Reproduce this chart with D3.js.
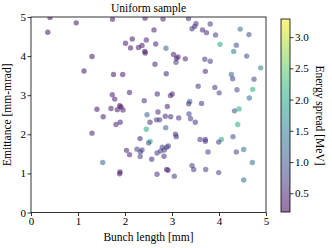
<!DOCTYPE html>
<html><head><meta charset="utf-8">
<script src="https://cdn.jsdelivr.net/npm/d3@7"></script>
<style>body{margin:0;background:#fff}svg{display:block}text{font-family:"Liberation Serif","DejaVu Serif",serif;fill:#000}</style>
</head><body><svg id="c" width="332" height="248"></svg>
<script>
const bunchLength = [0.404,0.357,0.962,1.298,1.128,1.734,2.426,2.809,3.351,2.617,2.155,2.011,2.453,2.117,2.287,2.362,2.421,2.432,2.653,2.872,3.032,3.128,3.096,3.085,3.283,2.638,2.877,1.755,1.951,2.096,1.730,1.781,2.409,2.687,3.006,2.968,2.900,1.887,1.915,1.836,1.702,1.957,1.404,2.702,3.377,3.355,3.511,3.426,3.483,3.813,3.649,3.734,3.926,4.451,4.638,4.021,4.368,4.313,4.589,3.698,3.815,3.709,4.887,4.262,4.291,4.745,3.557,3.911,4.004,4.383,4.717,4.645,3.628,4.330,4.426,1.536,1.809,1.898,1.298,2.468,2.532,2.738,2.670,2.857,2.972,3.143,3.362,3.394,3.496,2.453,2.866,2.319,2.536,2.504,3.074,3.091,2.032,2.096,2.255,2.326,2.362,2.323,2.568,2.681,2.755,2.794,2.836,2.887,2.921,2.830,1.526,1.894,1.887,2.887,2.915,2.681,3.049,3.596,3.709,3.709,4.049,3.994,4.298,4.398,3.766,4.368,4.526,4.709,3.426,3.462,3.717,3.994,4.526];
const emittance = [4.99,4.61,4.85,3.99,3.62,4.94,4.97,4.95,4.96,4.67,4.44,4.33,4.41,4.21,4.22,4.27,4.12,4.08,4.31,4.20,4.04,3.98,3.94,3.84,3.93,3.79,3.55,3.53,3.53,3.07,3.01,2.90,2.86,3.03,3.03,2.99,2.71,2.73,2.70,2.63,2.66,2.62,2.64,2.57,2.84,2.78,4.83,4.70,4.76,4.82,4.67,4.60,4.54,4.69,4.55,4.30,4.28,4.12,4.00,3.92,3.87,3.61,3.70,3.53,3.42,3.41,3.23,3.20,3.06,3.14,3.15,2.93,2.79,2.60,2.65,2.45,2.25,2.31,2.03,2.50,2.31,2.37,2.37,2.46,2.45,2.42,2.52,2.40,2.31,2.13,2.17,1.89,1.82,1.78,2.00,1.94,1.59,1.48,1.62,1.55,1.60,1.43,1.36,1.52,1.57,1.67,1.60,1.67,1.70,1.44,1.28,1.04,0.99,1.10,1.08,0.98,0.93,1.87,1.87,1.82,1.87,1.80,1.94,2.25,1.55,1.55,1.61,1.28,1.20,1.10,1.10,1.02,0.83];
const energySpread = [0.35,0.35,0.35,0.35,0.35,0.4,0.45,0.5,0.6,0.45,0.4,0.4,0.5,0.4,0.45,0.4,0.3,0.4,0.5,1.2,0.5,0.4,0.5,0.7,0.5,0.5,0.5,0.4,0.4,0.5,0.45,0.45,0.6,0.55,0.6,0.5,0.5,0.3,0.3,0.4,0.4,0.5,0.35,0.55,1.3,0.6,0.6,0.6,0.7,0.7,0.55,0.6,0.8,1.3,0.9,2.0,0.9,1.4,0.9,0.7,0.75,0.55,1.5,1.2,0.8,0.9,0.7,0.7,0.8,0.9,2.1,1.3,0.65,0.9,2.1,0.45,0.5,0.5,0.45,1.2,0.6,0.7,0.65,0.6,0.55,0.6,0.8,0.7,0.6,2.1,1.2,0.55,2.2,0.9,0.6,0.6,0.5,0.5,0.7,0.8,0.8,0.7,0.55,0.7,0.7,0.8,0.7,0.8,0.7,0.6,1.2,0.35,0.4,0.5,0.5,0.6,0.7,0.7,0.6,0.6,2.0,0.7,0.9,2.1,0.7,0.8,1.3,1.3,0.7,0.7,0.7,0.8,1.3];
const xTicks = [0,1,2,3,4,5];
const yTicks = [0,1,2,3,4,5];
const cbTicks = [0.5,1.0,1.5,2.0,2.5,3.0];
const cbDomain = [0.2,3.29];

const svg = d3.select("#c");
const W=332,H=248;
const m = {l:31,r:266,t:17,b:212.5};
const x = d3.scaleLinear().domain([0,5]).range([m.l,m.r]);
const y = d3.scaleLinear().domain([0,5]).range([m.b,m.t]);
const alpha = 0.55;
const col = v => d3.interpolateViridis((v-cbDomain[0])/(cbDomain[1]-cbDomain[0]));

const clip = svg.append("clipPath").attr("id","pc").append("rect")
  .attr("x",m.l).attr("y",m.t).attr("width",m.r-m.l).attr("height",m.b-m.t);
svg.append("g").attr("clip-path","url(#pc)").selectAll("circle")
  .data(bunchLength.map((d,i)=>({x:d,y:emittance[i],e:energySpread[i]})))
  .join("circle")
  .attr("cx",d=>x(d.x)).attr("cy",d=>y(d.y)).attr("r",2.7)
  .attr("fill",d=>col(d.e)).attr("fill-opacity",alpha);

svg.append("rect").attr("x",m.l).attr("y",m.t).attr("width",m.r-m.l).attr("height",m.b-m.t)
  .attr("fill","none").attr("stroke","#000").attr("stroke-width",0.8);

const xa = svg.append("g").attr("transform",`translate(0,${m.b})`)
  .call(d3.axisBottom(x).tickValues(xTicks).tickFormat(d3.format("d")).tickSize(3.5).tickPadding(1.5));
const ya = svg.append("g").attr("transform",`translate(${m.l},0)`)
  .call(d3.axisLeft(y).tickValues(yTicks).tickFormat(d3.format("d")).tickSize(3.5).tickPadding(1.5));
[xa,ya].forEach(a=>{a.select(".domain").remove();
  a.selectAll("line").attr("stroke","#000").attr("stroke-width",0.8);
  a.selectAll("text").attr("font-size",11).attr("font-family","Liberation Serif").attr("fill","#000");});

svg.append("text").attr("x",(m.l+m.r)/2).attr("y",12).attr("text-anchor","middle")
  .attr("font-size",11.5).text("Uniform sample");
svg.append("text").attr("x",(m.l+m.r)/2).attr("y",241).attr("text-anchor","middle")
  .attr("font-size",11.5).text("Bunch length [mm]");
svg.append("text").attr("transform",`translate(11,${(m.t+m.b)/2}) rotate(-90)`).attr("text-anchor","middle")
  .attr("font-size",11.5).text("Emittance [mm-mrad]");

// colorbar
const cb = {x:281,w:9,t:19,b:212};
const cy = d3.scaleLinear().domain(cbDomain).range([cb.b,cb.t]);
const grad = svg.append("defs").append("linearGradient").attr("id","g").attr("x1",0).attr("y1",1).attr("x2",0).attr("y2",0);
d3.range(0,1.0001,0.05).forEach(t=>grad.append("stop").attr("offset",t).attr("stop-color",d3.interpolateViridis(t)).attr("stop-opacity",alpha));
svg.append("rect").attr("x",cb.x).attr("y",cb.t).attr("width",cb.w).attr("height",cb.b-cb.t).attr("fill","url(#g)")
  .attr("stroke","#000").attr("stroke-width",0.8);
const ca = svg.append("g").attr("transform",`translate(${cb.x+cb.w},0)`)
  .call(d3.axisRight(cy).tickValues(cbTicks).tickFormat(d3.format(".1f")).tickSize(3.5).tickPadding(1.5));
ca.select(".domain").remove();
ca.selectAll("line").attr("stroke","#000").attr("stroke-width",0.8);
ca.selectAll("text").attr("font-size",11).attr("font-family","Liberation Serif").attr("fill","#000");
svg.append("text").attr("transform",`translate(316,${(cb.t+cb.b)/2}) rotate(90)`).attr("text-anchor","middle")
  .attr("font-size",11.5).text("Energy spread [MeV]");
</script></body></html>
